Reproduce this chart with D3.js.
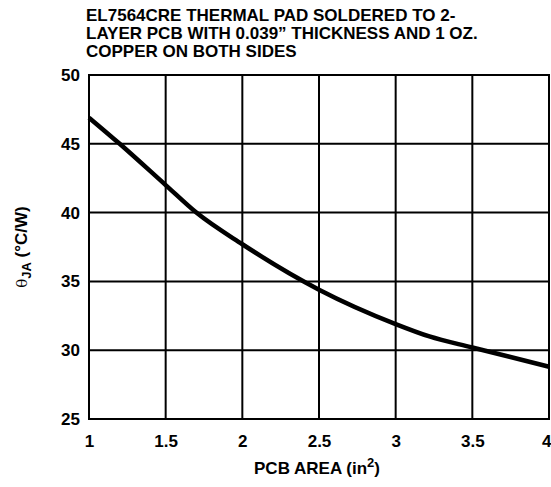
<!DOCTYPE html>
<html>
<head>
<meta charset="utf-8">
<script src="https://cdn.jsdelivr.net/npm/d3@7"></script>
<style>
  html, body { margin: 0; padding: 0; background: #fff; }
  svg { display: block; }
  text { font-family: "Liberation Sans", Arial, sans-serif; font-weight: bold; fill: #000; }
</style>
</head>
<body>
<svg id="chart" width="551" height="487"></svg>
<script>
// PCB area (in²) vs. junction-to-ambient thermal resistance (°C/W)
const pcbArea = [1.0, 1.2, 1.5, 1.7, 2.0, 2.5, 3.0, 3.22, 3.5, 4.0];
const thetaJA = [46.9, 45.0, 42.0, 40.0, 37.7, 34.4, 31.9, 31.0, 30.2, 28.8];

const xTicks = [1, 1.5, 2, 2.5, 3, 3.5, 4];
const yTicks = [25, 30, 35, 40, 45, 50];

const titleLines = [
  "EL7564CRE THERMAL PAD SOLDERED TO 2-",
  "LAYER PCB WITH 0.039\u201D THICKNESS AND 1 OZ.",
  "COPPER ON BOTH SIDES"
];

const svg = d3.select("#chart");
const margin = { left: 89, right: 2, top: 75, bottom: 68 };
const W = 551, H = 487;
const fontFamily = "Liberation Sans, Arial, sans-serif";

const x = d3.scaleLinear().domain([1, 4]).range([margin.left, W - margin.right]);
const y = d3.scaleLinear().domain([25, 50]).range([H - margin.bottom, margin.top]);

// grid lines
svg.append("g")
  .selectAll("line")
  .data(xTicks)
  .join("line")
  .attr("x1", d => x(d)).attr("x2", d => x(d))
  .attr("y1", y(25)).attr("y2", y(50))
  .attr("stroke", "#000").attr("stroke-width", 2);

svg.append("g")
  .selectAll("line")
  .data(yTicks)
  .join("line")
  .attr("x1", x(1) - 1).attr("x2", x(4) + 1)
  .attr("y1", d => y(d)).attr("y2", d => y(d))
  .attr("stroke", "#000").attr("stroke-width", 2);

// axis labels (axis lines come from the grid)
const xAxis = svg.append("g")
  .attr("transform", `translate(0,${y(25)})`)
  .call(d3.axisBottom(x).tickValues(xTicks).tickFormat(d3.format("")).tickSize(0).tickPadding(16));
xAxis.select(".domain").remove();
xAxis.selectAll("text")
  .style("font-size", "17px").style("font-family", fontFamily).style("font-weight", "bold");
// last label sits flush with the right edge
xAxis.selectAll(".tick").filter(d => d === 4).select("text")
  .attr("text-anchor", "end").attr("x", 2);

const yAxis = svg.append("g")
  .attr("transform", `translate(${x(1)},0)`)
  .call(d3.axisLeft(y).tickValues(yTicks).tickFormat(d3.format("")).tickSize(0).tickPadding(9));
yAxis.select(".domain").remove();
yAxis.selectAll("text")
  .style("font-size", "17px").style("font-family", fontFamily).style("font-weight", "bold");

// curve
const line = d3.line()
  .x((d, i) => x(pcbArea[i]))
  .y(d => y(d))
  .curve(d3.curveMonotoneX);

svg.append("path")
  .datum(thetaJA)
  .attr("d", line)
  .attr("fill", "none")
  .attr("stroke", "#000")
  .attr("stroke-width", 4.5)
  .attr("stroke-linejoin", "round");

// title
svg.append("g").selectAll("text")
  .data(titleLines)
  .join("text")
  .attr("x", 86)
  .attr("y", (d, i) => 21 + i * 18)
  .style("font-size", "17px")
  .text(d => d);

// x axis title
const xt = svg.append("text")
  .attr("x", 317)
  .attr("y", 474)
  .attr("text-anchor", "middle")
  .style("font-size", "17px");
xt.append("tspan").text("PCB AREA (in");
xt.append("tspan").attr("dy", -7).style("font-size", "13px").text("2");
xt.append("tspan").attr("dy", 7).text(")");

// y axis title
const yt = svg.append("text")
  .attr("transform", `translate(27,${(y(25) + y(50)) / 2}) rotate(-90)`)
  .attr("text-anchor", "middle")
  .style("font-size", "17px");
yt.append("tspan").style("font-weight", "normal").style("font-family", "DejaVu Serif, serif").style("font-size", "15px").text("\u03B8");
yt.append("tspan").attr("dy", 4).style("font-size", "13px").text("JA");
yt.append("tspan").attr("dy", -4).text(" (\u00B0C/W)");
</script>
</body>
</html>
